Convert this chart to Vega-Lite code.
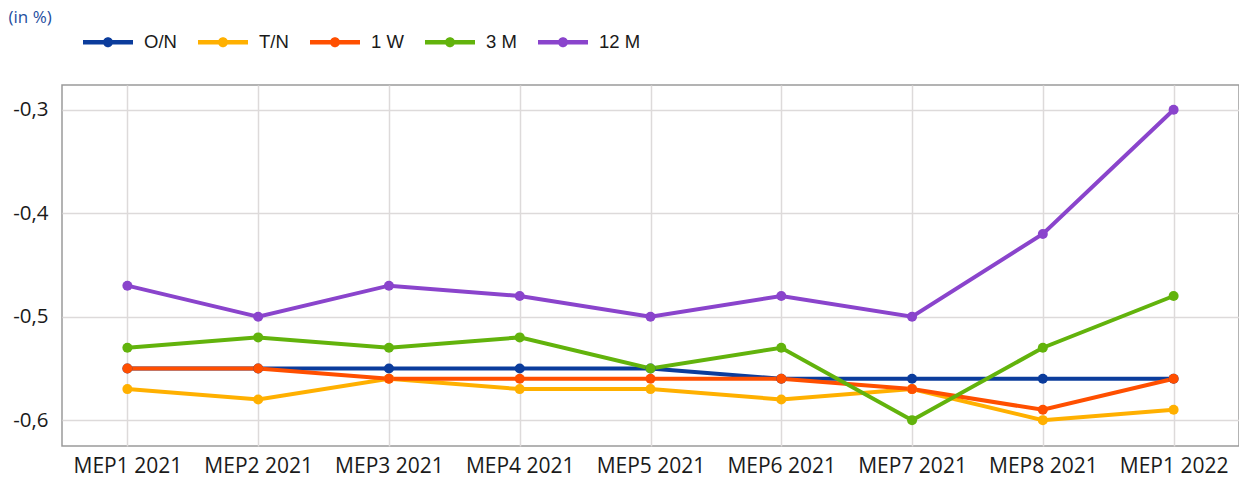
{
  "$schema": "https://vega.github.io/schema/vega-lite/v6.json",
  "autosize": {"type": "none"},
  "width": 1177,
  "height": 361,
  "padding": {"left": 62, "top": 85, "right": 0, "bottom": 31},
  "background": "white",
  "config": {
    "view": {"stroke": "#9a9a9a", "strokeWidth": 1.5},
    "font": "Open Sans"
  },
  "data": {"values": [
    {"period": "MEP1 2021", "series": "O/N", "value": -0.55},
    {"period": "MEP2 2021", "series": "O/N", "value": -0.55},
    {"period": "MEP3 2021", "series": "O/N", "value": -0.55},
    {"period": "MEP4 2021", "series": "O/N", "value": -0.55},
    {"period": "MEP5 2021", "series": "O/N", "value": -0.55},
    {"period": "MEP6 2021", "series": "O/N", "value": -0.56},
    {"period": "MEP7 2021", "series": "O/N", "value": -0.56},
    {"period": "MEP8 2021", "series": "O/N", "value": -0.56},
    {"period": "MEP1 2022", "series": "O/N", "value": -0.56},
    {"period": "MEP1 2021", "series": "T/N", "value": -0.57},
    {"period": "MEP2 2021", "series": "T/N", "value": -0.58},
    {"period": "MEP3 2021", "series": "T/N", "value": -0.56},
    {"period": "MEP4 2021", "series": "T/N", "value": -0.57},
    {"period": "MEP5 2021", "series": "T/N", "value": -0.57},
    {"period": "MEP6 2021", "series": "T/N", "value": -0.58},
    {"period": "MEP7 2021", "series": "T/N", "value": -0.57},
    {"period": "MEP8 2021", "series": "T/N", "value": -0.60},
    {"period": "MEP1 2022", "series": "T/N", "value": -0.59},
    {"period": "MEP1 2021", "series": "1 W", "value": -0.55},
    {"period": "MEP2 2021", "series": "1 W", "value": -0.55},
    {"period": "MEP3 2021", "series": "1 W", "value": -0.56},
    {"period": "MEP4 2021", "series": "1 W", "value": -0.56},
    {"period": "MEP5 2021", "series": "1 W", "value": -0.56},
    {"period": "MEP6 2021", "series": "1 W", "value": -0.56},
    {"period": "MEP7 2021", "series": "1 W", "value": -0.57},
    {"period": "MEP8 2021", "series": "1 W", "value": -0.59},
    {"period": "MEP1 2022", "series": "1 W", "value": -0.56},
    {"period": "MEP1 2021", "series": "3 M", "value": -0.53},
    {"period": "MEP2 2021", "series": "3 M", "value": -0.52},
    {"period": "MEP3 2021", "series": "3 M", "value": -0.53},
    {"period": "MEP4 2021", "series": "3 M", "value": -0.52},
    {"period": "MEP5 2021", "series": "3 M", "value": -0.55},
    {"period": "MEP6 2021", "series": "3 M", "value": -0.53},
    {"period": "MEP7 2021", "series": "3 M", "value": -0.60},
    {"period": "MEP8 2021", "series": "3 M", "value": -0.53},
    {"period": "MEP1 2022", "series": "3 M", "value": -0.48},
    {"period": "MEP1 2021", "series": "12 M", "value": -0.47},
    {"period": "MEP2 2021", "series": "12 M", "value": -0.50},
    {"period": "MEP3 2021", "series": "12 M", "value": -0.47},
    {"period": "MEP4 2021", "series": "12 M", "value": -0.48},
    {"period": "MEP5 2021", "series": "12 M", "value": -0.50},
    {"period": "MEP6 2021", "series": "12 M", "value": -0.48},
    {"period": "MEP7 2021", "series": "12 M", "value": -0.50},
    {"period": "MEP8 2021", "series": "12 M", "value": -0.42},
    {"period": "MEP1 2022", "series": "12 M", "value": -0.30}
  ]},
  "encoding": {
    "x": {
      "field": "period", "type": "ordinal", "sort": null,
      "scale": {"type": "point", "padding": 0.5},
      "axis": {
        "title": null, "labelAngle": 0, "ticks": false, "domain": false,
        "labelFontSize": 21, "labelColor": "#1a1a1a", "labelPadding": 9,
        "labelFont": "Open Sans",
        "grid": true, "gridColor": "#dddada", "gridWidth": 1.5
      }
    },
    "y": {
      "field": "value", "type": "quantitative",
      "scale": {"domain": [-0.625, -0.276], "nice": false, "zero": false},
      "axis": {
        "values": [-0.6, -0.5, -0.4, -0.3],
        "labelExpr": "replace(replace(format(datum.value, '.1f'), '.', ','), '\u2212', '-')",
        "ticks": false, "domain": false,
        "labelFontSize": 20.5, "labelColor": "#1a1a1a", "labelPadding": 14,
        "labelFont": "Open Sans",
        "grid": true, "gridColor": "#dddada", "gridWidth": 1.5,
        "title": "(in %)", "titleAngle": 0, "titleAlign": "left",
        "titleBaseline": "middle", "titleX": -54, "titleY": -68,
        "titleFontSize": 17, "titleFontWeight": "normal", "titleColor": "#1f4ea0",
        "titleFont": "Open Sans"
      }
    },
    "color": {
      "field": "series", "type": "nominal",
      "scale": {
        "domain": ["O/N", "T/N", "1 W", "3 M", "12 M"],
        "range": ["#0b3c9c", "#ffb000", "#ff4f00", "#62b30c", "#8a44cc"]
      },
      "legend": {
        "title": null, "orient": "none", "direction": "horizontal",
        "legendX": 21, "legendY": -68, "padding": 0,
        "symbolType": "M-1,-0.09H1V0.09H-1Z M-0.2,0A0.2,0.2 0 1,1 0.2,0A0.2,0.2 0 1,1 -0.2,0Z",
        "symbolSize": 2500, "symbolStrokeWidth": 0,
        "labelFontSize": 18.5, "labelFont": "Liberation Sans", "labelColor": "#1a1a1a",
        "labelOffset": 11, "columnPadding": 21,
        "encode": {"symbols": {"update": {"fill": {"scale": "color", "field": "value"}, "fillOpacity": {"value": 1}}}}
      }
    }
  },
  "layer": [
    {"mark": {"type": "line", "strokeWidth": 4}},
    {"mark": {"type": "point", "filled": true, "size": 100, "opacity": 1}}
  ]
}
